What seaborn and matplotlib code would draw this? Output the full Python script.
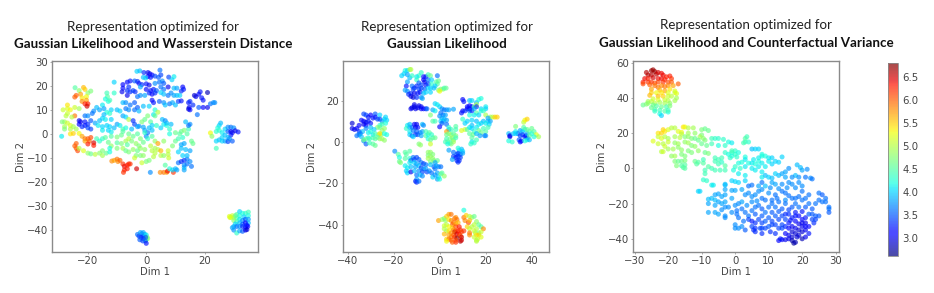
import numpy as np
import pandas as pd
import matplotlib.pyplot as plt
import seaborn as sns

# --- points: (dim 1, dim 2, colour value) ---
wasserstein_pts = [
    (-3.2,26,4.0),(-2.2,26.2,3.9),(-0.8,25.5,3.3),(0.6,25.5,3.0),(1.2,25,3.0),(2,24.5,3.1),(0.5,23.8,3.1),(-1,23.5,3.9),
    (-0.2,23.2,4.0),(1.5,23.5,3.2),(3,24,3.4),(4.7,26.5,3.6),(5,24.5,3.4),(4.2,23.5,3.5),(7.7,23.6,3.4),(9.5,23.8,4.1),
    (8.8,22.5,4.0),(-11,21.5,4.0),(-6.5,21.5,3.1),(-5.5,22,3.2),(-4,22,3.5),(-3,21.8,3.3),(-2.5,21,3.2),(-1.5,20.5,3.3),
    (0,20.8,3.2),(1,20.3,3.0),(3,21,3.7),(4.5,21.5,3.6),(5.5,22,3.7),(6,21,3.5),(-8,20.5,3.1),(-8,19,3.1),(-6,19.5,3.3),
    (-2,19.5,3.8),(0,18.5,3.1),(1.5,18,3.1),(2.5,18.5,3.2),(3.5,18,3.5),(5,19.5,3.6),(6,18.5,3.6),(7.5,19.5,3.0),(9.5,19,3.9),
    (10.5,19,3.8),(12.5,19.5,3.1),(12.8,18.5,3.2),(12,17.8,3.3),(-8.3,17.5,3.0),(-6.5,18,3.3),(-5.5,17.5,3.3),(-4.5,18,3.4),
    (-3.8,17.5,3.3),(1,17,3.3),(2,16.5,3.1),(3,17,3.3),(5,17.2,4.0),(6,16.5,3.9),(7.5,16,3.6),(8.5,17,3.7),(9.5,16,3.8),
    (10.5,16,3.9),(11.5,16,4.0),(-6.5,16,3.0),(-3,15.5,3.6),(-2,16,3.7),(-0.5,16,3.8),(2,14,3.1),(2.5,13,3.2),(4.5,13.5,3.5),
    (6,13,3.7),(8,12.5,3.6),(9,13,3.8),(10,12,3.9),(11,13.5,3.4),(12,13.7,3.2),(14.5,13,3.2),(15,13.5,3.3),(16,12,3.3),
    (17,15.5,3.0),(16.5,16,2.9),(18,16.5,3.1),(18.5,17.5,3.2),(19,15,3.2),(21,17.2,2.8),(19.5,14,3.2),(18,11,3.5),(19.5,11,3.1),
    (21,11,3.0),(22,12.5,3.6),(23,13,3.7),(23.5,13,3.7),(17.5,8,3.6),(14.5,10.3,2.9),(14.7,11,3.0),(15,10,3.1),
    (-13.5,17,4.4),(-13.3,15.5,4.5),(-11,17,4.3),(-14,14.5,4.2),(-13,13.5,4.2),(-12.5,14,4.4),(-15,12,4.1),(-17,11,3.9),
    (-16,10,3.8),(-18,9.5,3.7),(-18.5,8.5,3.6),(-14.5,10.5,3.8),(-12,10,4.0),(-13.5,9,4.2),(-12.5,8.5,4.3),(-14.5,8,3.9),
    (-15,6.5,4.0),(-16,5.5,3.9),(-14,6,4.1),(-12,6,4.0),(-10,10,3.9),(-9,9.5,4.0),(-8,13,3.9),(-7,13,3.7),(-5.5,12,3.6),
    (-4,13,3.5),(-7,10.5,3.6),(-6,10,3.7),(-4,10,3.6),(-3,11,3.5),(-2.5,9.5,3.9),(-1,11.5,3.9),(1,11.5,4.0),(3,10,4.2),(2.5,8,4.1),
    (4,9,5.0),(6.5,12,3.9),(-8,7.5,3.8),(-7,7,4.0),(-6,6,5.0),(-4.5,5.5,3.3),(-4,4,3.4),(-2.5,3.2,3.7),(-1.5,5,4.7),(-0.5,6,4.6),
    (0.5,7.5,4.7),(1.5,5,4.5),(2,3.5,4.0),(2,1.5,3.9),(3,7.5,4.6),(-19,5.5,3.5),(-17.5,4.5,3.8),(-16.5,3.5,4.1),(-15,3,4.0),
    (-13.5,3.5,4.0),(-12.5,3,4.0),(-15,1.5,4.1),(-13,1.5,4.0),(-12,0.8,4.1),(-11,2.5,3.9),(-10,4,3.8),(-9,3.5,4.1),(-8,2,4.4),
    (-7,2.5,4.2),(-5,2,3.9),(-3,3,3.8),(-1,2.8,3.8),(-0.5,1.5,3.8),(0,-1,3.7),(0.5,0.5,3.6),
    (-23,5.5,3.0),(-22.5,5,3.0),(-23,4,3.1),(-21,5,3.2),(-21,3.5,3.2),(-20,4,3.3),(-22,3,3.3),(-20,2.5,3.4),(-21,7.5,3.6),
    (-20,7.5,3.7),(-19,2,3.4),(-24.4,19.2,4.5),(-23,18,4.8),(-21.5,19.3,5.6),(-21,18.5,5.5),(-22.5,16.5,5.7),(-24,16,6.0),
    (-24.5,15.3,6.0),(-20,17,4.8),(-19,17.8,4.7),(-20.5,15.5,5.3),(-22,15,5.4),(-22,13.5,5.8),(-20.5,14,5.7),(-21,12.5,6.3),
    (-20,12.5,6.3),(-20.3,11.5,6.5),(-27,12,5.4),(-27,10.5,5.2),(-26,10,5.3),(-28.5,10,5.1),(-24.5,11,5.1),(-23,10.5,4.9),
    (-27,8.5,5.1),(-24.5,7.5,5.9),(-25.5,7,5.0),(-27.5,7.5,5.0),(-28,5,4.9),(-28.8,5,4.7),(-27,4.5,5.1),(-28,3,4.9),(-26,3.5,5.2),
    (-25,3,4.9),(-26,2,5.0),(-24,2,4.9),(-28,2,4.7),(-26,0,5.4),(-25,0.2,5.5),(-23,0.2,5.3),(-22,-1,5.7),(-21,-2,5.9),(-21,-3,5.7),
    (-29,-1,4.1),(-20,-2,6.0),(-19,-1.5,6.1),(-19.5,-3,6.0),(-20,-4.2,6.3),(-18,-3.7,6.5),(-18,-4.8,6.3),(-24,-4,6.0),(-24.5,-5,6.0),
    (-24,-6,6.0),(-23.5,-7,6.1),(-21.5,-7,5.2),(-23,-6,5.0),(-20,-8,4.8),(-19,-8.3,4.6),(-17.5,-8.5,5.0),
    (-17,-2,4.4),(-15,-2,4.3),(-14,-1.5,4.5),(-12,-1,4.5),(-10,-1.3,4.7),(-8.5,-0.5,4.6),(-8,1,4.5),(-6,0,4.6),(-4.5,-1,4.6),
    (-3,0,4.5),(-2,-2,4.7),(-0.5,0.5,4.3),(-16,-3,4.3),(-13,-3.5,4.6),(-12,-5,4.8),(-10,-3.7,4.5),(-8.5,-4,4.7),(-7,-3,4.9),
    (-6,-2,5.0),(-5,-3,4.7),(-6.5,-4.5,4.5),(-3.5,-4,4.8),(-2.5,-5,4.7),(-1,-3.5,4.6),(0.5,-2,4.3),(2,-1,4.5),(3,-3,4.8),(-16,-8,4.8),
    (-15,-7,4.7),(-15,-9,4.9),(-13.7,-8,4.6),(-12.5,-6,4.2),(-12.5,-7.5,4.2),(-10,-6,4.7),(-8,-6,4.9),(-7,-7,4.6),(-6,-7.5,4.7),
    (-4.5,-6.5,4.8),(-3,-7,4.6),(-2,-6,4.8),(-0.5,-6.5,4.8),(-3.5,-9,4.7),(-2,-9,4.7),(-1,-9,4.8),(1.5,-5,5.0),(2,-7,5.0),(3,-6,4.9),
    (3,-8,5.0),(2.5,-9.5,5.0),(4,-4,5.7),(4,-6.5,5.0),(5,-7,5.6),(5,-9,5.0),(6,-9,4.8),(7.5,-7,5.1),(7.5,-8.5,5.0),(7.7,-10,5.1),
    (6,-3,4.8),(9,-5,4.7),(10,-3,4.6),(11,-2,4.4),(12,-4.5,3.8),(13,-4,3.8),(12,-6,3.9),(11,-7.5,4.0),(13.5,-6.5,3.9),(15,-7,3.8),
    (16,-4,4.6),(15.5,-3,4.6),(10,0.5,4.6),(11.5,0,4.5),(12,1,4.6),(13,1.5,4.7),(14,0,4.5),(14.5,2,4.4),(12.5,-1.5,4.3),(15,4,3.7),
    (14.5,3.5,3.6),(13.5,5,3.9),(8,0,4.2),(8,2,4.3),(7,3.5,4.2),(6,4,4.1),(5.5,6,3.9),(6.5,5.5,3.7),(7,4.5,3.9),(8.5,4,3.9),(5,2.5,4.0),
    (3.5,3.5,4.3),(1,2.5,3.9),(-11.8,-11.3,5.8),(-11,-11,5.7),(-10,-10.5,5.9),(-9.7,-11.5,5.8),(-9,-11,6.0),(-8,-12.5,6.2),
    (-7.5,-13.5,6.4),(-6.5,-13,6.3),(-6,-12.5,6.3),(-5.5,-12.5,6.2),(-7.5,-15,6.3),(-7.8,-16,6.2),(-6.5,-14.5,6.3),(-3.3,-14.5,6.5),
    (-1.5,-12,5.1),(0,-11.5,4.7),(1,-11,4.7),(-4,-10,5.1),(1.4,-16,3.7),(4.8,-16,5.8),(6,-16,5.9),(7,-16,5.7),(7.3,-15.5,6.4),
    (9.3,-16,6.2),(6.5,-13,4.5),(8,-14.5,4.2),(9,-15,4.0),(10,-14.5,3.9),(10.5,-15,3.8),(13,-15,3.8),(13,-14,3.9),(13,-13,3.7),
    (14,-12.5,3.6),(15.5,-13.5,3.6),(11,-12,3.6),(12,-11.5,3.3),(13,-11,3.3),(14,-10.5,3.6),(12.5,-9,4.0),(14,-9,3.9),(15,-11.5,3.7),
    (22,0.4,5.3),(22.5,-1,4.8),(25.5,4.5,3.9),(25,3.5,4.0),(24.5,2.5,4.2),(24,1,4.3),(25,1.5,4.3),(26,0.5,4.1),(27,2,4.0),(28,2.8,3.7),
    (29,2.8,3.6),(30,2.5,3.7),(28,1,3.5),(29,1,3.1),(29.5,0.5,3.0),(30.5,1.3,3.0),(31.5,0.8,3.2),(29,-0.5,3.2),(28,-1.5,3.9),(27,-0.5,3.9),
    (26,-1.5,4.0),(25,-2.5,3.9),(24,-3,4.0),(26,-3,4.0),(27,-3,3.8),(28,-3.2,3.4),(29.5,-3,3.5),(24,-6,4.4),(28.5,-2,3.7),
    (28.5,-34.3,5.2),(29,-34.7,5.1),(29.5,-34,5.1),(30,-34.8,5.0),(28.7,-34.8,5.2),(30.5,-34,4.7),(31,-33.5,4.5),(32,-32.3,4.0),
    (33,-33,4.2),(34,-33,4.3),(35,-32.5,4.4),(32,-34,4.2),(33.5,-34.5,4.0),(35,-34,4.2),(31,-35,4.5),(32,-35.5,4.1),(33,-36,3.7),
    (34,-35.5,3.5),(35,-35.5,3.8),(35,-37,3.9),(30,-36,4.8),(31,-36.5,4.4),(30.5,-37.5,4.0),(32,-37,3.9),(33,-37.5,3.5),(34,-37,3.1),
    (34.5,-38,3.2),(30,-38.5,3.9),(31,-38.5,3.6),(32,-38.5,3.7),(33,-38.5,3.3),(34,-38.8,3.2),(34.8,-38.5,3.1),(30,-40,3.7),(31,-41.2,4.3),
    (32,-40.3,3.8),(33,-40.5,3.5),(34,-40,3.0),(34.5,-39.8,2.9),(29.5,-39,3.8),
    (-3,-41.8,3.6),(-2.5,-42.5,3.4),(-2,-41,3.8),(-1.5,-41.5,3.7),(-1,-41,3.8),(-1,-42.5,3.5),(-0.5,-41.8,3.8),(0,-42,4.1),(0.3,-43,4.6),
    (0.5,-43.5,4.7),(0,-44,4.7),(-1.8,-43,3.3),(-1,-43.5,3.3),(-0.2,-43,3.5),(-2.2,-44,3.5),(-1.2,-44.5,3.4),(-0.3,-44.5,3.6),(0,-45.5,3.2),
]

likelihood_pts = [
    (-15,34.5,4.2),(-14,34.5,4.0),(-13,35,4.8),(-12.5,35,5.0),(-15.5,33,4.0),(-16.5,32,4.0),(-14,32.5,3.8),(-13,31,3.9),(-12,32,4.3),
    (-8,33.5,4.3),(-9,32,4.3),(-10,31.5,4.1),(-10,30,4.3),(-7,31.5,3.2),(-6,31.5,3.2),(-5,32.5,4.4),(-4,32,4.6),(-1,32,3.6),(-14,29,3.8),
    (-7,30,3.1),(-6.5,29,3.0),(-5,30,3.6),(-3.5,30,4.0),(-9,28.5,3.5),(-8,27.5,3.4),(-6,27.5,3.2),(-5,28,3.4),(-3.5,28,4.3),(-1.5,29,4.5),
    (-0.5,29.5,4.6),(-1,28,4.5),(-2,27,4.0),(-14.5,27,3.2),(-12,27,3.6),(-11,26,3.3),(-10,27,3.3),(-11.5,25.5,3.4),(-9,25.5,3.4),(-8,26,3.4),
    (-6.5,25.5,3.5),(-5,26,4.0),(-4,26,4.0),(-2.5,26,3.9),(-0.5,25,4.7),(0.5,25.5,4.7),(1.5,25.5,4.8),(2,26,4.4),(2.8,26,4.6),(0,24.5,5.3),
    (-15,25,3.8),(-14,24.5,3.7),(-13.5,23,3.3),(-12.5,23.5,3.3),(-11,23.5,3.0),(-9.5,23.5,3.2),(-8.5,24,3.2),(-7,23.5,3.9),(-6,24,4.0),
    (-4,24,4.0),(-12.5,22,3.0),(-11.5,21.5,2.9),(-10,21.5,3.3),(-8,21.5,3.7),(-7.5,21,3.8),
    (-12.5,16,3.0),(-12,16.5,3.0),(-11,17,2.9),(-10.5,16,3.0),(-9.5,16.5,3.0),(-9,17.5,3.0),(-8,17,3.0),(-8,16,3.1),(-7,16,3.1),(-6,16,3.2),
    (-5.5,16,3.6),(-11,18,3.0),(-2,18.5,4.0),(-1,18,4.1),(0,17,4.0),(-3,15.5,3.8),(-2,15,4.1),(1,16,3.7),(2,15.5,3.6),(3,15.5,3.7),(4,15.5,3.8),
    (6,15.8,3.8),(-4,13,4.7),(0.5,14,3.6),(1.5,13,3.6),(2.5,13,3.8),(0,12.5,3.7),(1,11.5,3.8),(2,11,3.9),(-3,10,4.5),(-2,10,4.4),(0.5,10,4.0),
    (1.5,10,3.9),(3,10.5,3.8),(1,9,3.5),(3,8.5,3.6),(0,7.3,3.1),(4,6,3.7),
    (-38,9,2.9),(-38,6.5,3.0),(-37,6,3.0),(-36,6.5,3.1),(-35,8,3.1),(-35,5,3.3),(-34,10.5,3.1),(-33,10,3.1),(-32,9.5,3.0),(-33,8.5,3.0),
    (-32,8,3.1),(-31,10,3.2),(-30,9,3.2),(-33,13.5,3.4),(-32,13,3.4),(-31,12,3.2),(-30,13,3.1),(-29,11.5,3.2),(-28,13.5,3.5),(-28,12,3.2),
    (-27,11,3.4),(-26,13,4.0),(-26,11,3.4),(-25,10,3.7),(-24,11,4.0),(-23.5,12,4.0),(-23,10.5,4.0),(-23.5,9,4.2),(-25,8.5,4.4),(-26,8,4.3),
    (-27,7,4.7),(-26,7,4.6),(-24,6.5,4.8),(-25,5.5,4.8),(-28.5,6,4.0),(-30,7,3.9),(-32,6.5,3.7),(-33.5,5,3.9),(-34.5,4,3.6),(-35,3.5,3.7),
    (-36,3,3.6),(-34,2.5,3.9),(-31,4.5,4.1),(-30,5,4.2),(-29,3.5,4.1),(-28,4,4.4),(-26.5,3.5,4.7),(-25.5,3.5,4.8),(-26,4,5.4),(-24,4,4.2),
    (-23,3.5,4.2),(-31,2,4.2),(-30.5,1.5,4.4),(-29,2,4.4),(-28,1.5,4.5),(-27,2.2,4.5),(-26,1.5,4.8),(-25,1.5,4.9),(-24,0.8,4.8),(-33,0.5,3.7),
    (-32,-1,3.5),(-30.5,-0.5,4.4),(-29,-1,4.5),(-28,-1.7,4.6),(-32,1.5,4.5),(-33,1,4.6),
    (-14,8,4.1),(-13,8.5,3.9),(-14.5,6.5,4.3),(-13,7,3.9),(-12,7,3.6),(-11,8.5,3.1),(-10,8.5,3.0),(-10.5,7,3.0),(-9.5,7,3.2),(-7.5,8.5,3.9),
    (-7,8,3.7),(-13,5,4.1),(-11.5,5.5,3.6),(-10,5,3.5),(-8.5,4.5,3.6),(-7.5,5,3.8),(-13,3.5,4.0),(-12,3,3.6),(-10.5,3.5,3.3),(-9.5,3.5,3.5),
    (-8,3,3.8),(-11.5,2.5,4.0),(-6,3,4.5),(-5,3.5,4.2),(-4.5,4.5,4.5),(-6,5,4.4),(-3.5,3.5,4.3),(-3,2,4.4),(-2,2,4.6),(-5,1.5,4.2),(-4,1,4.6),
    (-9,-1,4.7),(-8.3,-1.5,4.8),(-4,-1,5.1),
    (3,5,5.7),(4,7,4.3),(5,6,4.4),(7,7.5,4.5),(7,6,4.4),(3,3.5,4.6),(4,4,4.7),(5,3.5,4.8),(6,4,4.5),(7,3,4.7),(3,1.5,4.4),(2.5,0,4.4),(3.5,0,4.5),
    (4.5,1.5,4.6),(5.5,2,4.8),(6,1,4.6),(7,2,4.4),(6,0,4.9),(4.5,-0.5,4.4),(5,-1,4.7),(3.5,-1,4.2),(8.5,-4,4.0),(9.5,-3.5,3.9),(8,-3,4.2),
    (10,-4.5,4.0),(4,-4,3.8),(6,-5,3.6),(7.5,-6,3.5),(8,-5.5,3.4),(9,-6,3.5),(10,-5.5,3.8),(6,-7,3.4),(7,-7.5,3.2),(8,-7,3.3),(9,-7.5,3.4),
    (5.5,-8.5,3.8),(7.5,-9,3.3),(8.5,-9,3.3),(8,-9.8,3.3),(9.5,5.5,5.2),(11,6,5.1),(12,6,4.5),
    (10,20.5,3.1),(10.5,19.5,3.2),(13,20,3.9),(14,20,4.0),(16,19,3.9),(17,20.5,4.2),(18,21,4.2),(13,17.5,3.1),(12,17,3.1),(12,16,3.1),(13,16,3.1),
    (14,17,3.2),(15,17,4.5),(16,18,5.0),(16,17,3.3),(10,15,3.1),(11,15,3.3),(9.5,14,3.2),(13,15,3.5),(14,15,3.3),(15,16,3.8),(18,16,4.0),(20,17,4.1),
    (20,16,4.0),(18,15,4.2),(19,15,4.3),(16,14,4.5),(13,13,4.2),(15,13,4.1),(17,13,4.0),(20,13,4.9),(22,12,4.9),(23,12,5.0),(21,11.5,3.8),(24,12,5.5),
    (25,12,5.5),(10,11,4.3),(12,10,4.0),(14,10.5,4.0),(16,10,3.9),(19,10,3.9),(21,10,3.9),(22,10,3.8),(11,9,4.0),(14,8,3.9),(17,8.5,4.1),(18,9,4.0),
    (20,9,4.1),(21.5,8.5,4.0),(13,7,4.1),(14,6.5,4.0),(16,7,4.1),(19,6.5,4.4),(21,7,4.4),(15,5,4.3),(17,5.5,4.6),(18,4.5,4.6),(20,5,4.5),(13,4,4.5),
    (14.5,3.5,4.6),(16,4,3.9),(17.5,3,3.8),(19.5,3,3.7),(20,3,3.7),(14,2,4.5),(16,1,4.4),(14,0,4.1),(15,-0.5,4.3),(13.5,-1,4.3),
    (30,4,3.9),(30.5,3,3.0),(30.5,2.5,3.0),(30,0.5,4.2),(31.5,0,4.3),(32,4,3.9),(33,7.5,4.7),(33,5,4.1),(34,4,3.5),(35,5.5,3.8),(36,5,3.9),(37,6,4.1),
    (36,3.5,3.4),(35,3,3.4),(34.5,1,3.5),(35.5,0.5,3.2),(35,0,3.1),(37,2.5,3.2),(37.5,3,3.1),(38,2,3.3),(38,4,3.8),(38,6,4.6),(39,5,4.5),(40,4,4.2),
    (39,3,4.5),(40,6.5,4.6),(41,5,4.5),(42,3.5,5.2),(43,2.5,4.9),(41,2.5,4.2),(38,1,4.1),(37,0.5,4.2),(36.5,9.5,5.0),(37,10.5,5.3),(38,11,5.5),(33,4,4.0),
    (36.5,7,4.5),(39,1,3.9),
    (-19.5,-4.5,3.7),(-18,-6,4.5),(-17.5,-7.5,4.2),(-17.5,-9.5,4.6),(-17,-10,4.7),(-15,-5,4.5),(-14.5,-6,4.5),(-13,-4.5,4.5),(-15,-8,4.5),(-13,-8,4.3),
    (-11.5,-7.5,3.6),(-10,-7.5,3.4),(-11,-8.5,3.4),(-9,-8.5,3.5),(-12.5,-9,3.5),(-11,-10,4.0),(-10,-10.5,3.8),(-13,-10,4.1),(-8,-10,3.6),(-7,-10.5,3.4),
    (-6,-11,3.6),(-15,-11.5,4.1),(-14,-12.5,4.1),(-12.5,-12,3.9),(-10.5,-12,3.8),(-9,-11.5,3.9),(-8,-12.5,3.4),(-7,-13,3.7),(-6,-13,3.8),(-14.5,-14,4.0),
    (-14,-15,4.0),(-12.5,-14.5,3.0),(-11,-14,3.9),(-9,-14,3.7),(-7.5,-14.5,3.4),(-5.5,-14.5,3.4),(-4.5,-14,3.7),(-3.5,-15,3.6),(-2.5,-12,3.5),(-2,-13,3.6),
    (-10,-16,3.6),(-8.5,-16,3.9),(-7.5,-16.5,3.7),(-3,-17,4.0),(-2,-16,3.7),(-1,-15,3.8),(-0.5,-17,4.0),(0.5,-15.5,4.6),(1,-15,4.5),(2,-16.5,4.8),(-1,-18,3.8),
    (0,-18,4.2),(-10,-18,3.8),(-10.5,-19,3.3),(-10,-19.5,3.3),(-9,-19,3.6),(-5,-5,4.8),(-4,-5,4.8),(-3,-6,4.7),(-5,-6.5,4.7),(-4,-7,4.8),(-3,-8,4.8),
    (-5,-8,4.9),(-2.5,-9,4.7),(-1,-9,4.6),(-4,-9.5,4.7),(-2,-10,3.8),(-4,-11,3.9),(-1.5,-11.5,3.8),(-0.5,-12,3.7),(0.5,-12,3.6),
    (-0.5,-38,5.7),(1,-37.5,4.9),(2,-37,4.7),(3,-36,5.5),(4,-35,5.7),(5,-35,5.9),(2.5,-38,4.8),(4,-37.5,5.4),(5,-38,5.8),(6.5,-37,5.9),(7,-36.5,5.8),
    (7.5,-37.5,5.9),(6,-39,5.9),(5.5,-40,6.0),(7,-39.5,5.7),(8,-39,5.6),(3,-40,5.0),(2,-40.5,5.1),(4,-41,5.3),(5.5,-41.5,5.5),(7,-41,6.1),(8.5,-41,6.3),
    (2,-42,5.0),(3,-43,4.9),(4,-43,5.4),(6,-42.5,5.8),(6.5,-43.5,6.6),(7,-43,6.0),(8,-43,6.3),(9,-42.5,6.2),(9.5,-43.5,6.1),(10.5,-43,6.2),(5,-44,5.8),
    (6,-45,6.0),(7.5,-44.5,6.5),(8.5,-44.5,6.3),(9,-45.5,6.0),(2,-44.5,5.6),(4,-45,5.7),(5,-46,5.9),(6.5,-46,6.2),(7.5,-46.5,6.7),(9.5,-46,6.5),(3,-47,5.5),
    (4,-47,5.9),(5,-47.5,6.0),(7,-47.5,6.1),(9,-48,6.6),(9.5,-47.5,6.5),(3,-48,5.3),(5.5,-48.5,6.0),(7,-48.5,6.2),
    (10.5,-33,4.2),(10.5,-36.5,5.9),(11.5,-35.5,5.5),(13,-36,5.0),(14,-36.5,4.9),(15,-36,4.6),(11,-38,5.8),(12.5,-39,6.1),(13,-38,5.6),(16,-38.5,4.8),
    (12,-41,5.5),(13,-42,5.1),(14,-41,5.0),(15,-40,5.0),(17,-40,4.6),(18,-41,4.5),(19,-42,5.8),(13,-44,5.9),(13,-45,5.8),(15,-43,5.1),(16,-42,5.0),
    (15.5,-44,5.0),(17,-44,4.7),(16,-45,5.4),(17,-45,5.5),(18,-43.5,5.1),(15,-46,5.1),(16.5,-47,5.1),(16,-47.5,5.0),(18,-46,5.2),(16,-48,5.0),
]

variance_pts = [
    (-26.5,54.5,6.6),(-25,55.5,6.7),(-24.5,56,6.7),(-24,55,6.7),(-23.5,53.5,6.6),(-26,53,6.6),(-25,53,6.6),(-23,54.5,6.5),(-22,54,6.4),(-21.5,53,6.4),
    (-20.5,52,6.3),(-19.5,52.5,6.3),(-19,51,6.2),(-27,51,6.4),(-26,51,6.3),(-24.5,51.5,6.5),(-23,51,6.4),(-22,51,6.4),(-21,50.5,6.3),(-27.5,49,6.3),
    (-26,49,6.2),(-25,49,6.2),(-24,48.5,6.1),(-23,49,6.1),(-21.5,49,6.2),(-20,49,6.1),(-19,49,6.0),(-17,48,6.0),(-27.5,48,6.1),(-25.5,47.5,6.0),(-24,47,5.9),
    (-23,46,5.9),(-22,47,5.8),(-21,46.5,5.9),(-20,47,5.8),(-18.5,47,5.7),(-25,45,5.7),(-22.5,44.5,5.6),(-21,44,5.7),(-19.5,45,5.4),(-18,44,5.2),(-25,43,5.5),
    (-23.5,43,5.3),(-22,43,5.4),(-20,43,5.2),(-18,43,5.1),(-17.5,42.5,5.2),(-25.5,41.5,5.6),(-23,41,5.6),(-21.5,41,5.5),(-20,41,5.1),(-19,41,5.0),(-17.5,40,4.9),
    (-24.5,39.5,5.1),(-23,39,5.2),(-21,39,5.1),(-20,38.5,5.0),(-18,38.5,4.9),(-26,38,4.9),(-25,38,5.0),(-24,37,5.0),(-22.5,37.5,4.9),(-21,37,4.9),(-19.5,37,4.8),
    (-27.5,36,4.6),(-26.5,36.5,4.7),(-24.5,36,4.6),(-23.5,35.5,4.5),(-22,35,4.6),(-20.5,35,4.4),(-19.5,35.5,4.7),(-24,33.5,4.5),(-24,32.5,4.3),(-22.5,33,4.4),
    (-21,32.5,4.5),(-20,32,4.2),(-22.5,31,4.2),(-22,30,4.0),(-20,33,4.4),(-25,34.5,4.6),(-26,37,4.8),
    (-21.5,22,5.5),(-23,20,5.4),(-22,20,5.5),(-21,21,5.4),(-20,22,5.2),(-19,23,5.0),(-18,23,5.0),(-15.5,23.5,5.4),(-15,23.5,5.3),(-14,23,5.0),(-12.5,23,4.9),
    (-10,22,4.7),(-9,22.5,4.6),(-8,21.5,4.6),(-17,21,5.2),(-16,20.5,5.3),(-16,19.5,5.0),(-14,20,4.9),(-12,20,4.8),(-10,19,4.7),(-10.5,18,4.9),(-9.5,17,4.8),
    (-24.5,15.5,5.2),(-23,18,5.1),(-22,17,5.2),(-21,18,5.0),(-20,17,4.9),(-18,18,4.9),(-16.5,17.5,5.0),(-15,18,4.7),(-14,18,4.8),(-13,17,4.7),(-12,17,4.6),
    (-11,16,4.6),(-9,16,4.7),(-7,17,4.4),(-6,17,4.3),(-5,17,4.3),(-3.5,16.5,4.3),(-2,15,4.2),(-1,14.5,4.1),(-23,14,5.1),(-21.5,14,5.0),(-20,15,5.1),(-18,14.5,4.8),
    (-17,14,4.9),(-15,15,4.8),(-14,14.5,4.9),(-13,13,4.7),(-12,12.5,4.8),(-10,14,4.6),(-8.5,13,4.6),(-7,14,4.4),(-5,13,4.2),(-3,13,4.3),(-21,12.5,5.1),(-20,11,4.9),
    (-18.5,11,4.9),(-17,12,4.8),(-16,10.5,4.8),(-14,10,4.7),(-11,10,4.8),(-9,9,4.6),(-8,8.5,4.7),(-22,9.5,5.0),(-21.5,9.5,5.1),(-19,7,4.8),(-18,7,4.9),(-16,8,4.7),
    (-15,7,4.7),(-13,9,4.7),(-18,4,4.7),(-17,4,4.6),(-16,4,4.6),(-15,4.5,4.7),(-12,4,4.6),(-11,3.5,4.5),(-9.5,3,4.5),(-9.5,5,4.4),(-11.5,2.5,4.5),(-16,1.5,4.5),
    (-15.5,0.5,4.5),(-15,0,4.5),(-15,2,4.5),(-17.5,1.5,4.7),(-6,6,4.4),(-5,5,4.4),(-4,6,4.4),(-6,4,4.4),(-4,3.5,4.3),(-5,2.5,4.4),(-3,1.5,4.5),(-8,1,4.5),(-7,0,4.4),
    (-6,-1,4.4),(-4.5,-1,4.4),(-3,-1,4.4),(-9,-1,4.4),(-9,-3,4.4),(-9.5,-6.5,4.3),(-8.5,-7,4.3),(-7,-9.5,4.1),(-6.5,-9.5,4.1),(-3,-9,3.9),(-11,-13,4.0),(-10.5,-13,4.0),
    (-3,9,4.3),(-2,8,4.2),(-1,9,4.3),(0,10,4.3),(-1,10,4.4),(-1,7,4.2),(0,8,4.3),(1,9,4.2),(-1.5,6,4.3),(0.5,6.5,4.3),(3,6.5,4.2),(3,5,4.1),(3,17,4.5),(3.5,18,4.4),
    (3,15,4.4),(2.5,14.5,4.4),(4,15,4.3),(5,11,3.9),(6,11,4.0),(7,11,4.0),(8,7,4.2),(8,8,4.2),(7,6,4.1),(9,7,4.2),(10,6,4.1),(11,6,4.0),(14,6.5,4.0),(5.5,5,4.1),(7,4,4.2),
    (8,3,4.1),(10,4,4.1),(12,4,4.0),(13,3.5,4.0),(1,3,4.2),(2,3.5,4.2),(4,3,4.2),(5,3,4.1),(6,2.5,4.2),(7,1,4.1),(9,1,4.1),(11,2.5,4.0),(0,1,4.3),(1.5,0,4.3),(3,1,4.1),
    (5,0,4.1),(-0.5,-1,4.2),(1,-3,4.1),(3,-4,4.1),(6,-1,4.1),(8,-2,4.1),(9,-4,3.9),(10,-5,4.0),(11,-5.5,3.9),(8,-5,4.1),(12,-3,4.0),(13,-4,3.9),(14,-3,3.8),(15,-2,3.8),
    (16,0,3.7),(15,-5,3.8),(18.5,2,3.9),(19.5,0.5,3.9),(20,-1,3.8),(21.5,-0.5,3.7),(18,-4,3.9),(17,-5,3.7),(19,-5,3.7),(21,-5,3.6),(22.5,-5.5,3.7),(23,-6,3.6),
    (-3,-9.5,3.9),(-1,-7,4.0),(0,-7.5,4.0),(1,-8,4.0),(3,-7,4.0),(4,-10,3.6),(5,-9.5,3.6),(8,-8,3.6),(7,-10,3.8),(9,-10,3.9),(11,-8,3.8),(12,-9,3.8),(14,-9,3.7),(16,-8,3.7),
    (17,-9,3.7),(19,-8,3.7),(20,-10,3.7),(18,-11,3.7),
    (-8,-17.5,3.9),(-7,-17,3.9),(-6,-15,3.8),(-6,-18,3.9),(-5,-14.5,3.8),(-4,-16,3.8),(-3,-15,3.8),(-3,-12,3.8),(-1,-12.5,3.8),(0,-12.5,3.8),(2,-12,3.8),(3,-15,3.7),(4,-14,3.7),
    (5,-16,3.7),(6,-15,3.7),(7,-13,3.7),(8,-12,3.7),(10,-14,3.7),(12,-15,3.6),(14,-13,3.6),(15,-14,3.6),(-5,-19,3.8),(-4,-20,3.8),(-3,-19,3.8),(2,-19,3.8),(5,-19,3.7),(8,-17,3.6),
    (9,-18,3.6),(11,-18,3.6),(13,-19,3.6),(15,-18,3.7),(17,-17,3.6),(18,-17,3.6),(19,-16,3.6),(20,-18,3.6),(21,-17,3.6),(22,-15,3.6),(25,-14,3.6),(26,-15,3.5),(27,-17,3.6),
    (25,-18,3.6),(26,-19,3.6),(27,-19,3.6),(28,-22,3.6),(28,-23,3.6),(28,-25,3.5),(-8,-25,3.8),(-6,-25,3.8),(-5,-26,3.8),(-6,-21,3.8),(-3,-27,3.7),(-3,-28,3.7),(-3,-22,3.7),
    (-2,-22,3.7),(0,-21,3.7),(1,-20,3.7),(0.5,-24,3.6),(0.5,-26,3.6),(1,-28,3.6),(2,-23,3.6),(3,-25,3.6),(4,-27,3.6),(5,-24,3.6),(6,-22,3.6),(7,-21,3.6),(8,-23,3.5),(9,-25,3.6),
    (10,-22,3.6),(11,-20,3.6),(12,-22,3.6),(14,-23,3.5),(15,-20,3.6),(17,-22,3.5),(19,-22,3.6),(21,-22,3.5),(22,-20,3.6),(23,-23,3.5),(22,-26,3.5),(23,-26,3.5),(24,-27,3.5),
    (25,-27,3.5),(24,-29,3.4),(23.5,-31,3.3),(4,-29,3.4),(5,-30,3.2),(6,-31,3.3),(7,-29,3.4),(8,-31,3.4),(9,-30,3.5),(10,-28,3.5),(12,-27,3.5),(13,-29,3.4),(14,-27,3.4),
    (15,-29,3.4),(16,-26,3.3),(17,-28,3.2),(18,-25,3.2),(19,-27,3.1),(20,-29,3.1),(21,-28,3.2),(20,-31,3.0),(21,-31,3.0),(18,-30,3.1),(16,-31,3.2),(14,-32,3.4),(12,-32,3.4),
    (10,-33,3.5),(9,-34,3.4),(8,-34,3.4),(6,-34,3.3),(5,-33,3.4),(3,-35,3.5),(2,-33,3.7),(1,-34,3.7),(0,-32,3.7),(0,-34,3.7),(5.5,-35,3.3),(6,-36,3.3),(7.5,-34,3.4),(11,-32,3.4),
    (14,-34,3.4),(15,-33,3.3),(16,-34,3.1),(17,-33,3.0),(18,-34,3.0),(20,-33,3.0),(21,-33,3.1),(19,-35,2.9),(17,-36,2.9),(18,-37,2.9),(20,-36,2.9),(21,-35,3.0),(22,-37,3.2),
    (16,-38,3.0),(17,-39,2.9),(18.5,-39,2.9),(19,-38,2.9),(20,-40,2.8),(21,-39,3.0),(15,-37,3.1),(12,-37,3.3),(13,-41,3.1),(14,-40.5,3.1),(15,-40.5,3.0),(16,-40,3.0),(17,-41,2.8),
    (17.5,-42.5,2.7),(18,-42,2.8),(13.5,-40,3.2),
    (10.5,-11,3.7),(13,-11.5,3.7),(15.5,-11,3.7),(12.5,-17,3.6),(16,-15.5,3.6),(6.5,-18.5,3.7),(3.5,-21,3.7),(-1,-17,3.8),(-8,-20,3.8),(-4,-23.5,3.7),(-1,-25,3.7),
    (2.5,-30,3.6),(11,-25,3.5),(13,-24.5,3.5),(16,-23.5,3.4),(18,-20,3.6),(20,-24.5,3.2),(15,-26,3.3),(11,-30,3.4),(13,-34,3.4),(10.5,-36,3.3),(8,-37,3.3),(19,-31.5,3.0),
    (16.5,-29.5,3.2),(22,-33,3.1),(23,-29,3.4),(18,-27,3.2),(8,-27,3.5),(6,-26,3.5),(20,-13,3.6),(24,-20,3.6),
]

title_top = "Representation optimized for"
title_bold = [
    "Gaussian Likelihood and Wasserstein Distance",
    "Gaussian Likelihood",
    "Gaussian Likelihood and Counterfactual Variance",
]
x_ticks = [[-20, 0, 20], [-40, -20, 0, 20, 40], [-30, -20, -10, 0, 10, 20, 30]]
y_ticks = [[-40, -30, -20, -10, 0, 10, 20, 30], [-40, -20, 0, 20], [-40, -20, 0, 20, 40, 60]]
x_limits = [(-32.3, 38.3), (-42, 47.5), (-30.5, 31)]
y_limits = [(-49.1, 30.3), (-53.2, 39.1), (-47.5, 61)]
cbar_ticks = [3.0, 3.5, 4.0, 4.5, 5.0, 5.5, 6.0, 6.5]
value_range = (2.6, 6.8)

W, H = 934, 293
GREY = "#8a8a8a"
TEXT = "#444444"

sns.set_style("white")
plt.rcParams["font.family"] = ["DejaVu Sans"]

fig = plt.figure(figsize=(W / 100, H / 100), dpi=100)

# pixel boxes of the three panels: left, right, top, bottom
boxes = [(52, 258, 61, 252), (343, 549, 61, 252), (633, 839, 61, 252)]
title_x = [153, 447, 746]
title_y = [(27, 44.5), (27, 44.5), (25, 43)]
all_pts = [wasserstein_pts, likelihood_pts, variance_pts]

for i, pts in enumerate(all_pts):
    l, r, t, b = boxes[i]
    ax = fig.add_axes([l / W, 1 - b / H, (r - l) / W, (b - t) / H])
    df = pd.DataFrame(pts, columns=["x", "y", "v"])
    # seaborn refuses the name "jet", the colormap object is fine
    sns.scatterplot(data=df, x="x", y="y", hue="v", palette=plt.cm.jet, hue_norm=value_range,
                    s=13, alpha=0.65, linewidth=0, legend=False, ax=ax)
    ax.set_xlim(x_limits[i])
    ax.set_ylim(y_limits[i])
    ax.set_xticks(x_ticks[i])
    ax.set_yticks(y_ticks[i])
    ax.set_xlabel("Dim 1", fontsize=7.3, color=TEXT)
    ax.set_ylabel("Dim 2", fontsize=7.3, color=TEXT)
    ax.xaxis.set_label_coords(0.5, -0.105, transform=ax.transAxes)
    ax.yaxis.set_label_coords(-0.15, 0.5, transform=ax.transAxes)
    ax.xaxis.label.set_verticalalignment("center")
    ax.yaxis.label.set_verticalalignment("center")
    ax.tick_params(labelsize=7.3, colors=TEXT, length=1.5, width=0.5, color=GREY, pad=1.2,
                   bottom=True, left=True)
    for s in ax.spines.values():
        s.set_color(GREY)
        s.set_linewidth(1.0)
    fig.text(title_x[i] / W, 1 - title_y[i][0] / H, title_top, ha="center", va="center",
             family="Lato", fontsize=9.6, color="#222222")
    fig.text(title_x[i] / W, 1 - title_y[i][1] / H, title_bold[i], ha="center", va="center",
             family="Lato", fontsize=9.6, fontweight="bold", color="#111111")

# --- colour bar ---
cax = fig.add_axes([888 / W, 1 - 256 / H, 10 / W, 193 / H])
sm = plt.cm.ScalarMappable(cmap="jet", norm=plt.Normalize(*value_range))
cb = fig.colorbar(sm, cax=cax, alpha=0.7)
cb.set_ticks(cbar_ticks)
cb.ax.tick_params(labelsize=7.3, colors=TEXT, length=0, pad=3)
cb.outline.set_edgecolor(GREY)
cb.outline.set_linewidth(0.6)

fig.savefig("out.png", dpi=100)
